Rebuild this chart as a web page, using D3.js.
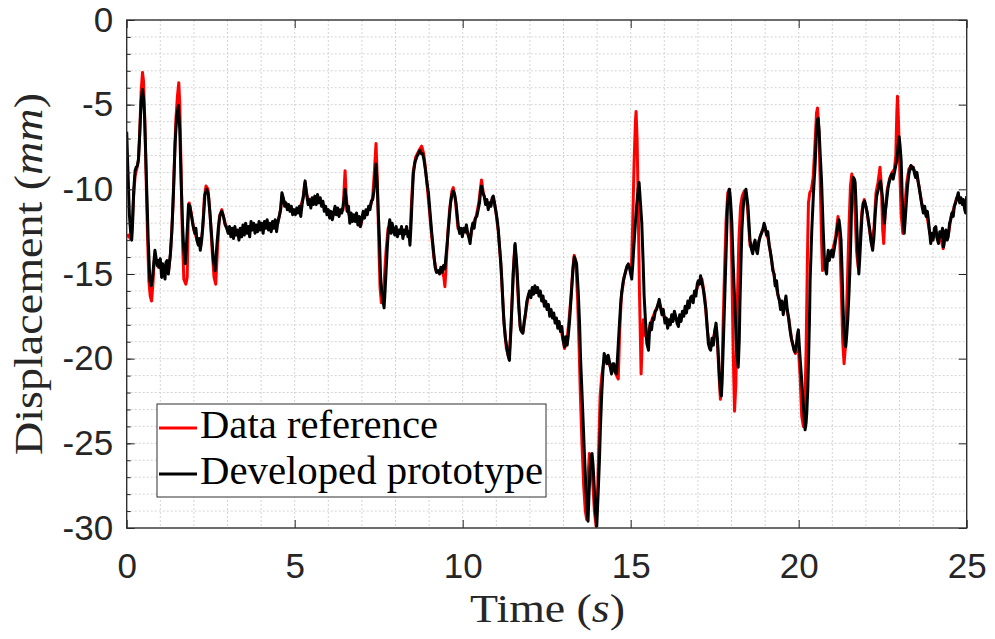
<!DOCTYPE html>
<html>
<head>
<meta charset="utf-8">
<script src="https://cdn.jsdelivr.net/npm/d3@7"></script>
<style>
  body { margin: 0; background: #fff; }
  .tick text { font-family: "Liberation Sans", Arial, sans-serif; fill: #262626; }
  .tick line { stroke: #262626; }
</style>
</head>
<body>
<div id="plot"></div>
<script>
// tick values
var xTicks = [0, 5, 10, 15, 20, 25];
var yTicks = [0, -5, -10, -15, -20, -25, -30];
var legendLabels = ['Data reference', 'Developed prototype'];

// Data reference (red) [time s, displacement mm]
var referenceData = [
  [0.00,-12.8],[0.05,-12.7],[0.10,-12.9],[0.15,-12.6],[0.20,-10.6],[0.25,-9.2],[0.30,-8.8],[0.35,-8.3],[0.39,-6.5],[0.43,-4.2],
  [0.47,-3.1],[0.50,-3.6],[0.54,-6.0],[0.58,-9.5],[0.62,-12.8],[0.66,-15.4],[0.70,-16.3],[0.74,-16.6],[0.78,-15.6],[0.82,-14.2],
  [0.88,-14.3],[0.94,-14.6],[1.00,-14.4],[1.06,-15.0],[1.12,-14.8],[1.18,-14.6],[1.24,-14.9],[1.30,-13.9],[1.36,-11.8],[1.41,-9.0],
  [1.46,-6.0],[1.51,-4.5],[1.55,-3.7],[1.58,-5.0],[1.62,-9.0],[1.66,-13.0],[1.70,-15.3],[1.76,-15.6],[1.80,-15.2],[1.83,-12.0],
  [1.86,-10.8],[1.92,-11.4],[2.00,-12.4],[2.10,-13.0],[2.20,-13.4],[2.26,-12.4],[2.31,-10.5],[2.36,-9.8],[2.42,-10.0],[2.48,-11.4],
  [2.55,-13.8],[2.60,-15.2],[2.65,-15.6],[2.70,-13.6],[2.76,-11.6],[2.83,-11.2],[2.93,-12.0],[3.0,-12.4],[3.1,-12.6],[3.2,-12.5],
  [3.3,-12.7],[3.4,-12.4],[3.5,-12.5],[3.6,-12.3],[3.7,-12.4],[3.8,-12.2],[3.9,-12.3],[4.0,-12.2],[4.1,-12.3],[4.2,-12.1],
  [4.3,-12.2],[4.4,-12.1],[4.5,-12.0],[4.58,-11.2],[4.62,-10.4],[4.66,-10.6],[4.75,-10.9],[4.85,-11.1],[4.95,-11.3],[5.05,-11.3],
  [5.15,-11.2],[5.25,-10.5],[5.31,-9.6],[5.37,-10.4],[5.45,-10.8],[5.55,-10.6],[5.65,-10.6],[5.75,-10.7],[5.85,-10.9],[5.95,-11.3],
  [6.05,-11.4],[6.15,-11.5],[6.25,-11.3],[6.35,-11.4],[6.44,-11.2],[6.48,-9.6],[6.50,-8.9],[6.53,-10.3],[6.57,-11.2],[6.65,-11.7],
  [6.75,-11.7],[6.85,-11.8],[6.95,-12.2],[7.05,-11.5],[7.15,-11.3],[7.25,-11.0],[7.32,-10.5],[7.37,-9.0],[7.42,-7.3],[7.46,-9.5],
  [7.50,-13.0],[7.54,-15.8],[7.58,-16.7],[7.62,-16.4],[7.67,-15.2],[7.72,-13.6],[7.78,-12.3],[7.85,-12.2],[7.95,-12.5],[8.05,-12.6],
  [8.15,-12.4],[8.25,-12.7],[8.35,-12.5],[8.43,-12.8],[8.48,-10.6],[8.53,-8.9],[8.60,-8.1],[8.70,-7.7],[8.78,-7.45],[8.84,-7.9],
  [8.90,-8.9],[8.98,-10.6],[9.06,-12.4],[9.14,-14.0],[9.22,-14.9],[9.30,-14.9],[9.38,-14.8],[9.44,-15.2],[9.47,-15.75],[9.50,-14.8],
  [9.55,-12.8],[9.61,-11.2],[9.68,-10.1],[9.72,-9.9],[9.78,-10.6],[9.86,-12.3],[9.95,-12.5],[10.05,-12.5],[10.15,-12.6],[10.22,-13.0],
  [10.30,-12.1],[10.40,-11.6],[10.48,-10.8],[10.53,-9.9],[10.56,-9.45],[10.62,-10.3],[10.70,-10.8],[10.80,-10.9],[10.90,-10.5],[10.98,-11.2],
  [11.06,-12.5],[11.14,-14.6],[11.22,-17.6],[11.30,-19.4],[11.38,-20.0],[11.44,-18.0],[11.50,-15.0],[11.55,-13.3],[11.60,-14.4],[11.66,-16.8],
  [11.72,-18.3],[11.80,-18.4],[11.88,-17.2],[11.96,-16.2],[12.05,-16.0],[12.15,-15.9],[12.25,-16.0],[12.35,-16.4],[12.45,-16.8],[12.55,-17.0],
  [12.65,-17.4],[12.75,-17.7],[12.85,-18.0],[12.95,-18.5],[13.03,-19.4],[13.10,-19.0],[13.16,-17.8],[13.22,-16.4],[13.28,-14.6],[13.32,-13.9],
  [13.37,-14.3],[13.42,-16.5],[13.46,-19.0],[13.50,-22.0],[13.55,-25.0],[13.60,-27.5],[13.65,-29.0],[13.69,-29.5],[13.73,-27.0],[13.77,-25.6],
  [13.81,-25.8],[13.86,-27.0],[13.92,-29.0],[13.97,-29.9],[14.02,-27.5],[14.06,-24.5],[14.09,-22.2],[14.14,-21.0],[14.20,-20.2],[14.30,-20.1],
  [14.40,-20.5],[14.50,-20.6],[14.58,-21.0],[14.63,-21.2],[14.67,-18.5],[14.72,-16.4],[14.80,-15.2],[14.90,-14.5],[14.97,-14.6],[15.02,-14.8],
  [15.06,-12.0],[15.10,-8.5],[15.14,-6.0],[15.16,-5.4],[15.19,-7.0],[15.22,-10.5],[15.26,-16.0],[15.31,-20.9],[15.35,-18.5],[15.38,-17.7],
  [15.43,-18.6],[15.48,-18.8],[15.55,-18.2],[15.65,-17.6],[15.75,-17.1],[15.85,-16.7],[15.95,-17.3],[16.05,-17.8],[16.15,-17.8],[16.25,-17.6],
  [16.35,-17.6],[16.45,-17.7],[16.55,-17.4],[16.65,-17.1],[16.75,-16.7],[16.85,-16.4],[16.95,-16.0],[17.05,-15.4],[17.12,-15.3],[17.20,-16.3],
  [17.28,-18.3],[17.36,-19.4],[17.44,-19.0],[17.52,-18.2],[17.58,-19.0],[17.63,-21.0],[17.67,-22.4],[17.71,-21.5],[17.75,-18.0],[17.79,-15.0],
  [17.84,-11.8],[17.89,-10.2],[17.93,-10.0],[17.97,-11.0],[18.01,-14.5],[18.05,-19.5],[18.09,-23.1],[18.13,-21.5],[18.17,-17.0],[18.22,-13.0],
  [18.27,-11.0],[18.32,-10.4],[18.38,-10.1],[18.43,-10.2],[18.48,-11.2],[18.55,-13.3],[18.63,-13.6],[18.72,-13.4],[18.82,-13.0],[18.92,-12.4],
  [19.00,-12.3],[19.10,-13.0],[19.20,-14.3],[19.30,-15.5],[19.40,-16.4],[19.50,-17.0],[19.60,-16.7],[19.70,-17.6],[19.80,-19.0],[19.90,-19.7],
  [19.98,-19.0],[20.04,-21.0],[20.09,-23.4],[20.14,-24.0],[20.18,-23.0],[20.22,-19.5],[20.26,-14.0],[20.29,-10.8],[20.33,-10.2],[20.38,-10.0],
  [20.43,-9.3],[20.48,-7.5],[20.53,-5.5],[20.56,-5.2],[20.60,-6.5],[20.64,-9.5],[20.68,-13.0],[20.71,-14.8],[20.76,-14.5],[20.82,-14.2],
  [20.90,-13.8],[21.00,-13.7],[21.10,-12.8],[21.17,-11.6],[21.22,-12.8],[21.27,-16.0],[21.31,-19.0],[21.35,-20.3],[21.39,-19.3],[21.45,-15.5],
  [21.50,-12.0],[21.54,-9.8],[21.58,-9.1],[21.63,-9.6],[21.68,-11.5],[21.72,-13.6],[21.77,-14.6],[21.82,-13.2],[21.88,-11.3],[21.95,-10.6],
  [22.03,-11.3],[22.10,-12.3],[22.17,-13.3],[22.24,-12.3],[22.30,-10.2],[22.36,-9.6],[22.42,-8.7],[22.46,-9.8],[22.50,-12.4],[22.53,-13.2],
  [22.57,-11.5],[22.63,-10.1],[22.70,-9.4],[22.78,-9.0],[22.85,-8.8],[22.89,-8.0],[22.92,-5.5],[22.94,-4.5],[22.97,-6.0],[23.01,-9.0],
  [23.05,-11.5],[23.10,-12.6],[23.15,-11.3],[23.21,-9.7],[23.28,-8.8],[23.35,-8.6],[23.42,-8.8],[23.50,-9.1],[23.58,-9.8],[23.66,-10.8],
  [23.74,-11.3],[23.82,-11.6],[23.90,-12.6],[23.98,-12.9],[24.06,-12.5],[24.14,-13.0],[24.22,-12.8],[24.30,-13.5],[24.38,-12.7],[24.46,-12.6],
  [24.54,-11.6],[24.62,-11.1],[24.70,-10.5],[24.78,-10.5],[24.86,-10.8],[24.94,-11.0],[25.00,-10.6]
];

// Developed prototype (black) [time s, displacement mm]
var prototypeData = [
  [0.00,-6.6],[0.03,-8.5],[0.08,-11.5],[0.12,-12.6],[0.15,-13.0],[0.18,-11.8],[0.21,-10.0],[0.25,-8.9],[0.28,-8.7],[0.32,-8.6],
  [0.35,-8.2],[0.38,-7.1],[0.43,-4.8],[0.47,-4.1],[0.50,-4.6],[0.53,-5.6],[0.56,-7.5],[0.60,-10.3],[0.64,-13.0],[0.69,-15.4],
  [0.73,-15.7],[0.77,-15.2],[0.80,-14.5],[0.84,-13.6],[0.87,-14.0],[0.91,-14.5],[0.94,-14.2],[0.97,-14.6],[1.00,-14.1],[1.04,-15.2],
  [1.07,-14.4],[1.10,-14.8],[1.14,-15.3],[1.17,-14.3],[1.20,-14.2],[1.24,-15.0],[1.27,-14.4],[1.30,-13.8],[1.34,-12.6],[1.39,-10.3],
  [1.44,-7.3],[1.49,-5.7],[1.54,-5.05],[1.58,-6.5],[1.62,-9.5],[1.66,-12.0],[1.70,-13.6],[1.74,-14.4],[1.77,-13.6],[1.80,-12.5],
  [1.84,-10.9],[1.88,-11.0],[1.93,-11.6],[1.98,-12.2],[2.03,-12.6],[2.06,-12.3],[2.09,-13.0],[2.13,-13.3],[2.16,-12.9],[2.19,-13.6],
  [2.23,-13.0],[2.28,-11.8],[2.33,-10.3],[2.38,-10.0],[2.43,-10.3],[2.48,-11.5],[2.53,-12.8],[2.58,-14.2],[2.63,-14.8],[2.68,-13.4],
  [2.73,-12.2],[2.78,-11.5],[2.83,-11.3],[2.88,-11.6],[2.93,-12.1],[2.98,-12.3],[3.02,-12.6],[3.06,-12.2],[3.10,-12.8],[3.14,-12.3],
  [3.18,-12.9],[3.22,-12.2],[3.26,-12.7],[3.30,-12.4],[3.34,-13.0],[3.38,-12.3],[3.42,-12.8],[3.46,-12.1],[3.50,-12.7],[3.54,-12.0],
  [3.58,-12.6],[3.62,-12.2],[3.66,-12.8],[3.70,-11.9],[3.74,-12.4],[3.78,-12.0],[3.82,-12.6],[3.86,-12.1],[3.90,-12.5],[3.94,-11.9],
  [3.98,-12.4],[4.02,-12.0],[4.06,-12.6],[4.10,-11.9],[4.14,-12.3],[4.18,-11.8],[4.22,-12.4],[4.26,-12.0],[4.30,-12.5],[4.34,-11.9],
  [4.38,-12.3],[4.42,-11.8],[4.46,-12.5],[4.50,-11.9],[4.54,-11.6],[4.58,-11.2],[4.62,-10.2],[4.66,-10.5],[4.70,-11.0],[4.74,-10.8],
  [4.78,-11.2],[4.82,-10.9],[4.86,-11.3],[4.90,-11.0],[4.94,-11.5],[4.98,-11.2],[5.02,-11.5],[5.06,-11.1],[5.10,-11.4],[5.14,-11.0],
  [5.18,-11.6],[5.22,-10.9],[5.26,-10.4],[5.29,-9.8],[5.31,-9.5],[5.34,-10.1],[5.37,-10.5],[5.40,-10.9],[5.44,-10.6],[5.48,-11.1],
  [5.52,-10.5],[5.56,-10.9],[5.60,-10.4],[5.64,-10.9],[5.68,-10.3],[5.72,-10.8],[5.76,-10.5],[5.80,-11.0],[5.84,-10.7],[5.88,-11.3],
  [5.92,-11.0],[5.96,-11.5],[6.00,-11.2],[6.04,-11.7],[6.08,-11.3],[6.12,-11.8],[6.16,-11.4],[6.20,-11.0],[6.24,-11.5],[6.28,-11.1],
  [6.32,-11.6],[6.36,-11.2],[6.40,-11.4],[6.44,-11.0],[6.48,-10.4],[6.50,-10.0],[6.53,-10.6],[6.56,-11.3],[6.60,-11.0],[6.64,-12.0],
  [6.68,-11.4],[6.72,-11.9],[6.76,-11.5],[6.80,-11.9],[6.84,-11.4],[6.88,-12.1],[6.92,-11.6],[6.96,-12.2],[7.00,-11.7],[7.04,-11.3],
  [7.08,-11.7],[7.12,-11.2],[7.16,-11.5],[7.20,-11.0],[7.24,-11.2],[7.28,-10.7],[7.32,-10.6],[7.36,-10.1],[7.39,-9.3],[7.42,-8.5],
  [7.46,-9.9],[7.49,-11.5],[7.52,-12.8],[7.56,-15.4],[7.60,-16.2],[7.63,-16.6],[7.66,-17.0],[7.69,-16.0],[7.72,-14.8],[7.76,-13.3],
  [7.79,-12.4],[7.83,-11.8],[7.87,-12.6],[7.90,-12.0],[7.94,-12.4],[7.98,-12.7],[8.02,-12.2],[8.06,-12.8],[8.10,-12.4],[8.14,-12.6],
  [8.18,-12.2],[8.22,-12.9],[8.26,-12.4],[8.30,-12.6],[8.33,-12.2],[8.37,-12.8],[8.40,-12.5],[8.43,-13.3],[8.46,-12.2],[8.49,-10.8],
  [8.53,-9.1],[8.58,-8.4],[8.63,-8.1],[8.68,-7.9],[8.73,-7.7],[8.77,-7.9],[8.81,-7.9],[8.85,-8.3],[8.88,-8.7],[8.93,-9.5],
  [8.98,-10.2],[9.03,-11.4],[9.08,-12.6],[9.13,-13.6],[9.18,-14.6],[9.22,-14.9],[9.27,-14.8],[9.31,-15.0],[9.35,-14.6],[9.39,-14.9],
  [9.43,-14.5],[9.47,-14.7],[9.50,-14.0],[9.54,-13.2],[9.57,-12.4],[9.61,-11.5],[9.64,-10.8],[9.68,-10.3],[9.72,-10.1],[9.76,-10.3],
  [9.80,-10.8],[9.84,-11.6],[9.87,-12.2],[9.91,-12.6],[9.95,-12.3],[9.99,-12.8],[10.03,-12.3],[10.07,-12.5],[10.11,-12.1],[10.15,-12.6],
  [10.19,-12.9],[10.22,-13.2],[10.26,-12.4],[10.30,-12.0],[10.34,-12.3],[10.38,-11.7],[10.42,-11.6],[10.46,-11.2],[10.50,-10.8],[10.53,-10.2],
  [10.56,-9.8],[10.60,-10.2],[10.64,-10.4],[10.68,-10.9],[10.72,-10.6],[10.76,-11.2],[10.80,-10.8],[10.84,-11.0],[10.88,-10.5],[10.91,-10.4],
  [10.94,-10.7],[10.98,-11.2],[11.02,-11.7],[11.06,-12.4],[11.09,-13.2],[11.13,-14.2],[11.16,-15.2],[11.20,-16.8],[11.23,-17.9],[11.27,-18.8],
  [11.31,-19.3],[11.35,-19.8],[11.39,-20.1],[11.43,-18.5],[11.46,-17.1],[11.51,-14.8],[11.56,-13.2],[11.60,-14.2],[11.63,-15.2],[11.67,-16.8],
  [11.71,-18.1],[11.75,-18.4],[11.79,-18.5],[11.83,-17.8],[11.87,-17.3],[11.91,-16.6],[11.95,-16.3],[11.99,-16.0],[12.03,-16.4],[12.07,-15.8],
  [12.11,-16.2],[12.15,-15.7],[12.19,-16.1],[12.23,-15.8],[12.27,-16.3],[12.31,-16.0],[12.35,-16.6],[12.39,-16.3],[12.43,-16.9],[12.47,-16.6],
  [12.51,-17.1],[12.55,-16.8],[12.59,-17.5],[12.63,-17.1],[12.67,-17.6],[12.71,-17.3],[12.75,-17.9],[12.79,-17.6],[12.83,-18.2],[12.87,-17.8],
  [12.91,-18.4],[12.95,-18.1],[12.99,-18.9],[13.03,-19.3],[13.07,-18.7],[13.11,-19.2],[13.14,-18.7],[13.18,-17.8],[13.21,-16.9],[13.24,-16.0],
  [13.28,-14.8],[13.32,-14.0],[13.36,-14.2],[13.39,-14.4],[13.42,-15.4],[13.44,-16.1],[13.48,-18.0],[13.51,-20.1],[13.55,-22.0],[13.59,-24.0],
  [13.63,-26.0],[13.67,-27.8],[13.70,-28.8],[13.73,-29.6],[13.76,-28.0],[13.79,-26.6],[13.82,-25.7],[13.85,-25.6],[13.88,-26.3],[13.91,-27.4],
  [13.95,-29.0],[13.99,-29.9],[14.03,-28.0],[14.07,-26.0],[14.10,-24.0],[14.14,-22.0],[14.18,-20.5],[14.21,-19.7],[14.25,-19.9],[14.29,-20.3],
  [14.33,-19.8],[14.36,-20.1],[14.40,-20.6],[14.43,-20.9],[14.47,-20.3],[14.50,-20.3],[14.54,-20.8],[14.58,-20.9],[14.62,-19.5],[14.66,-18.1],
  [14.70,-16.8],[14.73,-16.1],[14.78,-15.4],[14.83,-15.0],[14.88,-14.6],[14.93,-14.4],[14.97,-14.7],[15.03,-15.3],[15.06,-14.5],[15.10,-13.2],
  [15.14,-12.0],[15.18,-10.9],[15.22,-10.0],[15.25,-9.6],[15.29,-10.8],[15.33,-12.0],[15.37,-14.3],[15.40,-16.3],[15.44,-17.8],[15.48,-19.1],
  [15.53,-19.5],[15.56,-18.4],[15.58,-17.9],[15.62,-18.3],[15.66,-17.6],[15.69,-17.7],[15.73,-17.2],[15.77,-17.1],[15.81,-16.8],[15.85,-16.5],
  [15.89,-17.0],[15.93,-17.4],[15.97,-17.1],[16.02,-17.9],[16.06,-17.6],[16.10,-18.2],[16.14,-17.7],[16.18,-18.0],[16.22,-17.4],[16.26,-17.8],
  [16.30,-17.2],[16.34,-17.5],[16.38,-17.9],[16.42,-18.1],[16.46,-17.4],[16.50,-17.8],[16.54,-17.2],[16.58,-17.5],[16.62,-16.9],[16.66,-17.3],
  [16.70,-16.6],[16.74,-17.0],[16.78,-16.4],[16.82,-16.3],[16.86,-16.7],[16.90,-16.0],[16.94,-16.3],[16.98,-15.6],[17.01,-15.4],[17.05,-15.6],
  [17.08,-15.1],[17.12,-15.5],[17.16,-15.9],[17.20,-16.5],[17.24,-17.1],[17.28,-18.2],[17.31,-19.1],[17.35,-19.4],[17.38,-19.5],[17.42,-18.8],
  [17.46,-19.2],[17.50,-18.4],[17.54,-17.9],[17.58,-18.8],[17.61,-19.9],[17.64,-21.0],[17.67,-21.9],[17.70,-22.2],[17.73,-20.8],[17.76,-18.9],
  [17.79,-17.0],[17.82,-15.0],[17.85,-13.0],[17.88,-11.0],[17.91,-10.3],[17.94,-10.0],[17.97,-10.6],[18.01,-12.0],[18.04,-13.8],[18.08,-15.9],
  [18.12,-17.8],[18.15,-19.5],[18.20,-20.5],[18.23,-19.0],[18.25,-16.9],[18.28,-14.5],[18.31,-12.4],[18.34,-11.3],[18.37,-10.6],[18.40,-10.3],
  [18.43,-10.0],[18.46,-10.5],[18.49,-11.0],[18.52,-12.0],[18.55,-13.0],[18.59,-13.5],[18.63,-13.8],[18.67,-13.2],[18.70,-13.0],[18.74,-13.6],
  [18.77,-13.8],[18.81,-13.2],[18.85,-12.8],[18.89,-12.6],[18.93,-12.4],[18.97,-12.0],[19.00,-12.2],[19.04,-12.7],[19.08,-12.5],[19.12,-13.3],
  [19.15,-13.6],[19.19,-14.1],[19.23,-14.8],[19.27,-15.0],[19.30,-15.7],[19.34,-15.4],[19.38,-16.2],[19.42,-16.5],[19.46,-17.1],[19.50,-16.6],
  [19.54,-17.4],[19.58,-16.8],[19.62,-16.3],[19.66,-17.1],[19.70,-17.6],[19.74,-18.3],[19.78,-18.8],[19.82,-19.1],[19.86,-19.5],[19.89,-19.6],
  [19.93,-19.2],[19.96,-18.6],[19.99,-18.3],[20.02,-19.3],[20.05,-20.2],[20.09,-21.3],[20.14,-22.8],[20.19,-24.2],[20.22,-23.8],[20.24,-23.2],
  [20.27,-21.8],[20.29,-20.3],[20.32,-17.8],[20.34,-15.4],[20.37,-13.6],[20.39,-12.4],[20.44,-10.2],[20.49,-8.5],[20.53,-6.5],[20.56,-5.9],
  [20.58,-5.8],[20.61,-6.6],[20.63,-7.5],[20.68,-9.5],[20.73,-12.4],[20.76,-13.9],[20.78,-14.6],[20.83,-15.0],[20.86,-14.0],[20.88,-13.6],
  [20.91,-14.2],[20.94,-13.9],[20.98,-13.6],[21.02,-14.0],[21.06,-13.5],[21.10,-13.0],[21.13,-12.6],[21.17,-12.0],[21.20,-11.8],[21.23,-12.3],
  [21.26,-13.0],[21.29,-14.8],[21.31,-16.3],[21.34,-18.0],[21.36,-18.9],[21.40,-19.3],[21.43,-18.6],[21.46,-17.7],[21.50,-16.0],[21.53,-14.4],
  [21.56,-12.2],[21.58,-10.4],[21.61,-9.6],[21.63,-9.3],[21.66,-9.4],[21.68,-9.6],[21.71,-11.0],[21.73,-12.2],[21.76,-13.8],[21.79,-15.0],
  [21.82,-14.0],[21.85,-12.8],[21.88,-11.7],[21.92,-10.8],[21.96,-10.7],[22.00,-11.0],[22.04,-11.4],[22.07,-11.8],[22.11,-12.3],[22.15,-13.0],
  [22.20,-13.6],[22.24,-12.8],[22.28,-11.4],[22.32,-10.4],[22.37,-10.0],[22.40,-9.7],[22.43,-9.5],[22.46,-9.9],[22.49,-10.4],[22.52,-11.2],
  [22.55,-12.0],[22.58,-11.3],[22.62,-10.6],[22.66,-9.9],[22.69,-9.6],[22.73,-9.3],[22.77,-9.1],[22.81,-9.4],[22.85,-9.0],[22.88,-8.7],
  [22.92,-8.3],[22.96,-7.4],[22.99,-6.9],[23.02,-7.5],[23.05,-8.3],[23.08,-10.4],[23.11,-11.7],[23.14,-12.6],[23.17,-11.8],[23.21,-10.6],
  [23.24,-9.8],[23.28,-9.1],[23.31,-8.8],[23.34,-8.6],[23.38,-8.8],[23.41,-8.7],[23.45,-9.1],[23.48,-9.3],[23.52,-9.0],[23.56,-9.6],
  [23.60,-10.1],[23.64,-10.6],[23.67,-11.0],[23.71,-11.4],[23.75,-11.0],[23.79,-11.6],[23.83,-11.3],[23.86,-11.8],[23.90,-12.6],[23.93,-13.2],
  [23.97,-12.6],[24.00,-13.0],[24.04,-12.3],[24.08,-12.2],[24.12,-12.9],[24.16,-13.2],[24.20,-12.5],[24.24,-12.8],[24.28,-12.3],[24.31,-13.4],
  [24.35,-12.6],[24.38,-12.4],[24.42,-13.0],[24.45,-12.8],[24.49,-12.0],[24.52,-11.8],[24.56,-11.4],[24.60,-11.6],[24.63,-11.0],[24.67,-10.8],
  [24.71,-10.5],[24.75,-10.2],[24.79,-10.8],[24.83,-10.5],[24.87,-10.9],[24.90,-10.6],[24.94,-11.2],[24.97,-11.4],[25.00,-10.4]
];

// SVG area
var svgWidth = 995;
var svgHeight = 639;

var margin = { top: 20, right: 28.3, bottom: 111, left: 126.7 };
var width = svgWidth - margin.left - margin.right;
var height = svgHeight - margin.top - margin.bottom;

var svg = d3.select('#plot')
  .append('svg')
  .attr('width', svgWidth)
  .attr('height', svgHeight);

var chartGroup = svg.append('g')
  .attr('transform', `translate(${margin.left}, ${margin.top})`);

var xScale = d3.scaleLinear().domain([0, 25]).range([0, width]);
var yScale = d3.scaleLinear().domain([-30, 0]).range([height, 0]);

// dotted minor grid, every 1 unit
var gridColor = '#d4d4d4';
chartGroup.append('g')
  .selectAll('line')
  .data(d3.range(1, 25))
  .enter()
  .append('line')
  .attr('x1', (d) => xScale(d))
  .attr('x2', (d) => xScale(d))
  .attr('y1', 0)
  .attr('y2', height)
  .attr('stroke', gridColor)
  .attr('stroke-dasharray', '2,2');

chartGroup.append('g')
  .selectAll('line')
  .data(d3.range(-29, 0))
  .enter()
  .append('line')
  .attr('y1', (d) => yScale(d))
  .attr('y2', (d) => yScale(d))
  .attr('x1', 0)
  .attr('x2', width)
  .attr('stroke', gridColor)
  .attr('stroke-dasharray', '2,2');

// clip the traces to the axes box
svg.append('defs').append('clipPath')
  .attr('id', 'clip')
  .append('rect')
  .attr('width', width)
  .attr('height', height);

var line = d3.line()
  .x((d) => xScale(d[0]))
  .y((d) => yScale(d[1]));

var traces = chartGroup.append('g').attr('clip-path', 'url(#clip)');

traces.append('path')
  .datum(referenceData)
  .attr('d', line)
  .attr('fill', 'none')
  .attr('stroke', '#ff0000')
  .attr('stroke-width', 3)
  .attr('stroke-linejoin', 'round');

traces.append('path')
  .datum(prototypeData)
  .attr('d', line)
  .attr('fill', 'none')
  .attr('stroke', '#000000')
  .attr('stroke-width', 3)
  .attr('stroke-linejoin', 'round');

// plain hyphen minus like MATLAB
var tickFmt = (d) => String(d);

// axes (ticks inward)
var bottomAxis = d3.axisBottom(xScale).tickValues(xTicks).tickSizeInner(-8).tickSizeOuter(0).tickPadding(25).tickFormat(tickFmt);
var leftAxis = d3.axisLeft(yScale).tickValues(yTicks).tickSizeInner(-8).tickSizeOuter(0).tickPadding(13.5).tickFormat(tickFmt);
var topAxis = d3.axisTop(xScale).tickValues(xTicks).tickSizeInner(-8).tickSizeOuter(0).tickFormat('');
var rightAxis = d3.axisRight(yScale).tickValues(yTicks).tickSizeInner(-8).tickSizeOuter(0).tickFormat('');
var minorAxis = d3.axisLeft(yScale).tickValues(d3.range(-29, 0)).tickSizeInner(-4).tickSizeOuter(0).tickFormat('');

var xAxis = chartGroup.append('g')
  .attr('transform', `translate(0, ${height})`)
  .call(bottomAxis);
xAxis.selectAll('text').attr('font-size', 35).attr('dy', '0.71em');

var yAxis = chartGroup.append('g').call(leftAxis);
yAxis.selectAll('text').attr('font-size', 35);

chartGroup.append('g').call(topAxis);
chartGroup.append('g').attr('transform', `translate(${width}, 0)`).call(rightAxis);
chartGroup.append('g').call(minorAxis).select('.domain').remove();

chartGroup.selectAll('.domain').remove();

// axes box
chartGroup.append('rect')
  .attr('width', width)
  .attr('height', height)
  .attr('fill', 'none')
  .attr('stroke', '#303030')
  .attr('stroke-width', 1.4);

// axis labels (LaTeX look)
var labelFont = '"Liberation Serif", "DejaVu Serif", serif';

var xLabel = svg.append('text')
  .attr('x', 470)
  .attr('y', 622)
  .attr('font-family', labelFont)
  .attr('font-size', 41)
  .attr('fill', '#262626')
  .attr('textLength', 155)
  .attr('lengthAdjust', 'spacingAndGlyphs');
xLabel.append('tspan').text('Time (');
xLabel.append('tspan').attr('font-style', 'italic').text('s');
xLabel.append('tspan').text(')');

var yLabel = svg.append('text')
  .attr('transform', 'translate(42, 274) rotate(-90)')
  .attr('text-anchor', 'middle')
  .attr('font-family', labelFont)
  .attr('font-size', 41)
  .attr('fill', '#262626')
  .attr('textLength', 362)
  .attr('lengthAdjust', 'spacingAndGlyphs');
yLabel.append('tspan').text('Displacement (');
yLabel.append('tspan').attr('font-style', 'italic').text('mm');
yLabel.append('tspan').text(')');

// legend
var legendGroup = svg.append('g');

legendGroup.append('rect')
  .attr('x', 157)
  .attr('y', 404)
  .attr('width', 389)
  .attr('height', 93)
  .attr('fill', '#ffffff')
  .attr('stroke', '#303030')
  .attr('stroke-width', 1);

var legendColors = ['#ff0000', '#000000'];
var legendWidths = [238, 343];

legendLabels.forEach(function (label, i) {
  var ly = 428 + i * 46;
  legendGroup.append('line')
    .attr('x1', 159)
    .attr('x2', 197)
    .attr('y1', ly)
    .attr('y2', ly)
    .attr('stroke', legendColors[i])
    .attr('stroke-width', 3);
  legendGroup.append('text')
    .attr('x', 200)
    .attr('y', ly + 10)
    .attr('font-family', labelFont)
    .attr('font-size', 40)
    .attr('fill', '#000')
    .attr('textLength', legendWidths[i])
    .attr('lengthAdjust', 'spacingAndGlyphs')
    .text(label);
});
</script>
</body>
</html>
